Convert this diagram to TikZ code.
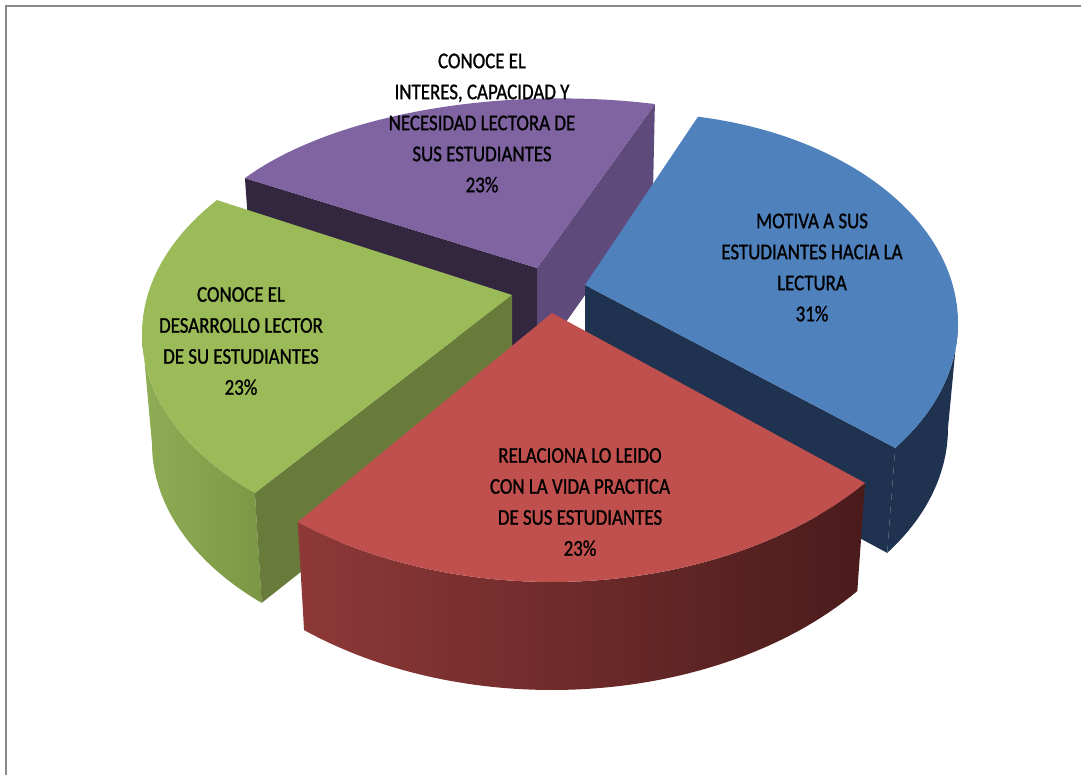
\documentclass[tikz,border=0pt]{standalone}
\usepackage{fontspec}
\setmainfont{Carlito}[FakeStretch=0.84,FakeBold=1]
\definecolor{pface}{HTML}{8064A2}
\definecolor{pleft}{HTML}{33263F}
\definecolor{pright}{HTML}{5F4B7B}
\definecolor{gface}{HTML}{9BBB59}
\definecolor{gdark}{HTML}{687B3B}
\definecolor{gwallL}{HTML}{8FAD55}
\definecolor{gwallR}{HTML}{7B9745}
\definecolor{bface}{HTML}{4F81BD}
\definecolor{bdark}{HTML}{1F3350}
\definecolor{rface}{HTML}{C0504D}
\definecolor{rwallL}{HTML}{8E3938}
\definecolor{rwallR}{HTML}{4A1B1B}
\definecolor{framec}{HTML}{898989}
\begin{document}
\begin{tikzpicture}[x=1pt,y=-1pt]
\tikzset{lbl/.style={align=center,font=\fontsize{22.5}{31}\selectfont,inner sep=0pt,text=black}}
\useasboundingbox (0,0) rectangle (1081,775);
\fill[white] (0,0) rectangle (1081,775);
\draw[framec,line width=1.5pt] (6,775) -- (6,6) -- (1081,6);

% ---------- purple slice (back)
\coordinate (pA) at (537,268);
\coordinate (pAb) at (537,363);
\coordinate (pL) at ({560+371.5*cos(-148)},{268+169.6*sin(-148)});
\coordinate (pLb) at ({560+363.5*cos(-148)},{363+169.6*sin(-148)});
\coordinate (pR) at ({560+371.5*cos(-75.2)},{268+169.6*sin(-75.2)});
\coordinate (pRb) at ({560+363.5*cos(-75.2)},{363+169.6*sin(-75.2)});
\fill[pleft] (pL) -- (pA) -- (pAb) -- (pLb) -- cycle;
\fill[pright] (pA) -- (pR) -- (pRb) -- (pAb) -- cycle;
\fill[pface] (pA) -- plot[domain=-148:-75.2,samples=60] ({560+371.5*cos(\x)},{268+169.6*sin(\x)}) -- cycle;

% ---------- green slice (left)
\coordinate (gA) at (512,295);
\coordinate (gAb) at (512,405);
\coordinate (gB) at ({490+348*cos(132.5)},{333.8+215.8*sin(132.5)});
\coordinate (gBb) at ({490+338*cos(132.5)},{443.8+215.8*sin(132.5)});
\shade[left color=gwallL,right color=gwallR]
  plot[domain=132.5:180,samples=40] ({490+348*cos(\x)},{333.8+215.8*sin(\x)})
  -- plot[domain=180:132.5,samples=40] ({490+338*cos(\x)},{443.8+215.8*sin(\x)}) -- cycle;
\fill[gdark] (gB) -- (gA) -- (gAb) -- (gBb) -- cycle;
\fill[gface] (gA) -- plot[domain=132.5:218.3,samples=60] ({490+348*cos(\x)},{333.8+215.8*sin(\x)}) -- cycle;

% ---------- blue slice (right)
\coordinate (bA) at (585,285);
\coordinate (bAb) at (585,390);
\coordinate (bB) at ({638+320*cos(36.5)},{323+210*sin(36.5)});
\coordinate (bBb) at ({638+310*cos(36.5)},{428+210*sin(36.5)});
\fill[bdark]
  plot[domain=0:36.5,samples=30] ({638+320*cos(\x)},{323+210*sin(\x)})
  -- plot[domain=36.5:0,samples=30] ({638+310*cos(\x)},{428+210*sin(\x)}) -- cycle;
\fill[bdark] (bA) -- (bB) -- (bBb) -- (bAb) -- cycle;
\fill[bface] (bA) -- plot[domain=-79.2:36.5,samples=70] ({638+320*cos(\x)},{323+210*sin(\x)}) -- cycle;

% ---------- red slice (front)
\coordinate (rA) at (552,313);
\shade[left color=rwallL,right color=rwallR]
  plot[domain=39.2:129,samples=60] ({552+404*cos(\x)},{313+269*sin(\x)})
  -- plot[domain=129:39.2,samples=60] ({552+394*cos(\x)},{421+269*sin(\x)}) -- cycle;
\fill[rface] (rA) -- plot[domain=39.2:129,samples=60] ({552+404*cos(\x)},{313+269*sin(\x)}) -- cycle;

% ---------- labels
\node[lbl] (tP) at (482,123) {CONOCE EL\\INTERES, CAPACIDAD Y\\NECESIDAD LECTORA DE\\SUS ESTUDIANTES\\23\%};
\node[lbl] (tB) at (812,267.5) {MOTIVA A SUS\\ESTUDIANTES HACIA LA\\LECTURA\\31\%};
\node[lbl] (tG) at (241,341) {CONOCE EL\\DESARROLLO LECTOR\\DE SU ESTUDIANTES\\23\%};
\node[lbl] (tR) at (580,502) {RELACIONA LO LEIDO\\CON LA VIDA PRACTICA\\DE SUS ESTUDIANTES\\23\%};
\end{tikzpicture}
\end{document}
